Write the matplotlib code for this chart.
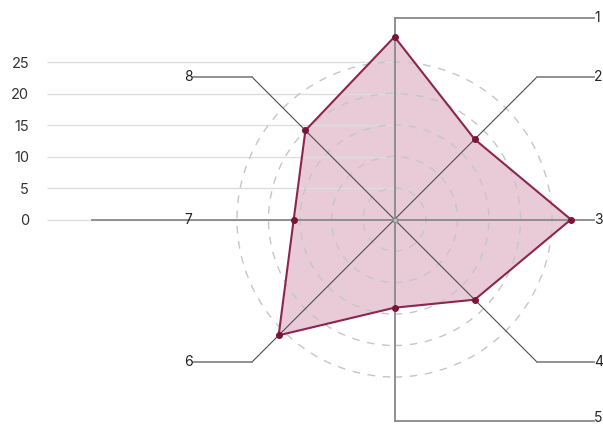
import numpy as np
import matplotlib
matplotlib.use("Agg")
import matplotlib.pyplot as plt
from matplotlib.patches import Circle

plt.rcParams['font.family'] = ['Inter', 'DejaVu Sans']

# data
axis_labels = ["1", "2", "3", "4", "5", "6", "7", "8"]
values = [29, 18, 28, 18, 14, 26, 16, 20]
ring_ticks = [0, 5, 10, 15, 20, 25]

W, H = 603, 425
px = 6.3              # pixels per value unit
cx, cy = 394.5, 219.5  # centre of the radar in pixels (from top-left)
R = 32.0              # length of the spokes in value units
lab_right, lab_left = 31.6, -32.0
far_left = -48.0

fig = plt.figure(figsize=(W / 100, H / 100), dpi=100)
ax_left = 46
ax = fig.add_axes([ax_left / W, 0, (W - ax_left) / W, 1])
ax.set_xlim((ax_left - cx) / px, (W - cx) / px)
ax.set_ylim(-(H - cy) / px, cy / px)
for s in ax.spines.values():
    s.set_visible(False)
ax.set_xticks([])
ax.set_yticks(ring_ticks)
ax.set_yticklabels([str(t) for t in ring_ticks])
ax.tick_params(axis="y", length=0, pad=12.2, labelsize=10.5, labelcolor="#333333")

# horizontal grid lines, left side only
ax.hlines(ring_ticks, (ax_left - cx) / px + 0.1, 0, colors="#dddddd", lw=1.0, zorder=2)

# dashed rings
for t in ring_ticks[1:]:
    ax.add_patch(Circle((0, 0), t, fill=False, ec="#c6c6c6", lw=1.0,
                        ls=(0, (5.5, 5.5)), zorder=2))

n = len(values)
ang = np.pi / 2 - np.arange(n) * 2 * np.pi / n
xs = np.array(values) * np.cos(ang)
ys = np.array(values) * np.sin(ang)

ax.fill(xs, ys, color="#e8cbd7", zorder=1, lw=0)

# spokes with leader lines and labels
for i, a in enumerate(ang):
    ex, ey = R * np.cos(a), R * np.sin(a)
    diag = abs(abs(np.cos(a)) - abs(np.sin(a))) < 0.1
    ty_off = 0
    if diag:
        ax.plot([0, ex], [0, ey], color="#4d4d4d", lw=0.8, zorder=3)
        lx = lab_right if ex > 0 else lab_left
        ax.plot([ex, lx], [ey, ey], color="#888888", lw=1.3, zorder=3)
    elif abs(np.cos(a)) < 0.1:   # vertical spokes 1 and 5
        ax.plot([0, 0], [0, ey], color="#888888", lw=1.3, zorder=3)
        lx = lab_right
        ax.plot([0, lx], [ey, ey], color="#888888", lw=1.3, zorder=3, clip_on=False)
        if ey < 0:
            ty_off = 0.5   # keep label 5 inside the canvas
    elif ex > 0:                 # spoke 3
        lx = lab_right
        ax.plot([0, lx], [0, 0], color="#888888", lw=1.3, zorder=3)
        ey = 0
    else:                        # spoke 7
        ax.plot([0, far_left], [0, 0], color="#888888", lw=1.3, zorder=3)
        lx, ey = -32.8, 0
    if lx > 0:
        ax.text(lx + 0.1, ey + ty_off, axis_labels[i], ha="left", va="center",
                fontsize=10, color="#222222", zorder=6, clip_on=False)
    else:
        ax.text(lx, ey, axis_labels[i], ha="right" if i != 6 else "center",
                va="center", fontsize=10, color="#222222", zorder=6,
                clip_on=False)

ax.plot(0, 0, "o", ms=3.5, mfc="#bbbbbb", mec="#888888", mew=0.8, zorder=4)

ax.plot(np.append(xs, xs[0]), np.append(ys, ys[0]), color="#8c2550", lw=1.5, zorder=4)
ax.plot(xs, ys, "o", ms=4, color="#7a1538", zorder=5)

fig.savefig("out.png", dpi=100)
